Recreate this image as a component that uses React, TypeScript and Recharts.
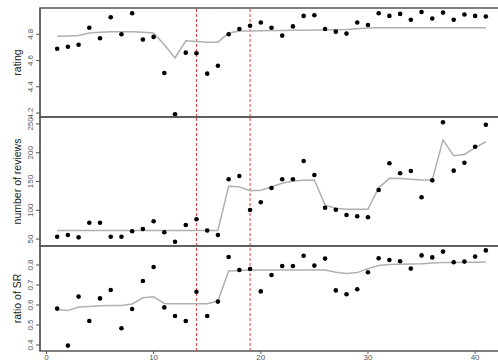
import { ComposedChart, Scatter, Line, XAxis, YAxis, ReferenceLine, ReferenceArea, Label } from 'recharts'

const days = [1, 2, 3, 4, 5, 6, 7, 8, 9, 10, 11, 12, 13, 14, 15, 16, 17, 18, 19, 20, 21, 22, 23, 24, 25, 26, 27, 28, 29, 30, 31, 32, 33, 34, 35, 36, 37, 38, 39, 40, 41]

const ratingPts = [4.69, 4.705, 4.72, 4.85, 4.77, 4.93, 4.8, 4.96, 4.76, 4.78, 4.505, 4.19, 4.66, 4.655, 4.5, 4.56, 4.8, 4.84, 4.865, 4.89, 4.85, 4.79, 4.86, 4.94, 4.945, 4.84, 4.82, 4.805, 4.89, 4.87, 4.96, 4.94, 4.955, 4.91, 4.97, 4.92, 4.965, 4.91, 4.95, 4.94, 4.935]
const ratingFit = [4.785, 4.787, 4.79, 4.81, 4.815, 4.82, 4.82, 4.82, 4.815, 4.81, 4.72, 4.62, 4.75, 4.745, 4.74, 4.74, 4.81, 4.825, 4.825, 4.827, 4.828, 4.829, 4.83, 4.831, 4.832, 4.833, 4.835, 4.837, 4.842, 4.848, 4.85, 4.85, 4.85, 4.85, 4.85, 4.85, 4.85, 4.85, 4.85, 4.85, 4.85]

const reviewPts = [54, 57, 53, 78.5, 78.5, 54, 54, 63.5, 67.5, 81, 62, 45.5, 74.5, 84.4, 65, 57, 154, 159.5, 100.5, 114, 138.7, 153.8, 153.8, 185.6, 161.3, 104.5, 101, 91.8, 89.6, 87.8, 135.2, 181.6, 164.2, 168.2, 122.6, 152, 252.8, 168.8, 182.6, 210.4, 248.6]
const reviewFit = [65, 65, 65, 65, 65, 65, 65, 65, 65, 65, 65, 65, 65, 65, 65, 65, 141.7, 141, 134, 135, 141, 147, 151, 152, 152.6, 109, 103.5, 101.7, 101.7, 101.7, 139, 155.5, 155, 154, 152.6, 152.6, 222, 194.8, 197, 208.7, 219]

const ratioPts = [0.582, 0.397, 0.642, 0.52, 0.633, 0.675, 0.484, 0.58, 0.72, 0.79, 0.588, 0.545, 0.52, 0.666, 0.545, 0.617, 0.84, 0.775, 0.78, 0.668, 0.75, 0.795, 0.795, 0.846, 0.797, 0.832, 0.673, 0.654, 0.679, 0.764, 0.834, 0.825, 0.819, 0.782, 0.848, 0.838, 0.867, 0.814, 0.817, 0.842, 0.873]
const ratioFit = [0.577, 0.572, 0.59, 0.593, 0.596, 0.598, 0.598, 0.605, 0.636, 0.641, 0.608, 0.606, 0.606, 0.606, 0.606, 0.62, 0.77, 0.772, 0.775, 0.775, 0.775, 0.775, 0.775, 0.775, 0.775, 0.775, 0.764, 0.758, 0.762, 0.782, 0.797, 0.803, 0.804, 0.805, 0.806, 0.81, 0.812, 0.813, 0.814, 0.814, 0.815]

const xTicks = [0, 10, 20, 30, 40]
const ratingTicks = [4.2, 4.4, 4.6, 4.8]
const reviewTicks = [50, 100, 150, 200, 250]
const ratioTicks = [0.4, 0.5, 0.6, 0.7, 0.8]
const breaks = [14, 19]

const FONT = '"Liberation Sans", Arial, sans-serif'
const X_DOMAIN: [number, number] = [-0.6, 42.6]

const rows = (pts: number[], fit: number[]) => days.map((d, i) => ({ x: d, pt: pts[i], fit: fit[i] }))

const RotTick = (props: any) => {
  const { x, y, payload, fmt } = props
  return (
    <text x={x} y={y} transform={`rotate(-90 ${x} ${y})`} textAnchor="middle" fontSize={8} fill="#555" fontFamily={FONT}>
      {fmt(payload.value)}
    </text>
  )
}

const Dot = (p: any) => <circle cx={p.cx} cy={p.cy} r={2.3} fill="#000" />

type PanelProps = {
  pts: number[]
  fit: number[]
  domain: [number, number]
  ticks: number[]
  fmt: (v: number) => string
  title: string
  top: number
  plotH: number
  showX?: boolean
}

function Panel({ pts, fit, domain, ticks, fmt, title, top, plotH, showX }: PanelProps) {
  const data = rows(pts, fit)
  const h = plotH + 2 + (showX ? 30 : 2)
  return (
    <div style={{ position: 'absolute', left: 0, top }}>
      <ComposedChart width={510} height={h} data={data} margin={{ top: 2, right: 7, bottom: showX ? 0 : 2, left: 0 }}>
        <XAxis
          dataKey="x"
          type="number"
          domain={X_DOMAIN}
          ticks={xTicks}
          interval={0}
          hide={!showX}
          axisLine={false}
          tickSize={3}
          tickMargin={0}
          tickLine={{ stroke: '#555' }}
          tick={{ fontSize: 8, fill: '#555', fontFamily: FONT }}
          height={30}
        />
        <YAxis
          type="number"
          domain={domain}
          ticks={ticks}
          interval={0}
          width={40}
          allowDataOverflow
          tickSize={4}
          tickMargin={3}
          axisLine={{ stroke: '#555' }}
          tickLine={{ stroke: '#555' }}
          tick={<RotTick fmt={fmt} />}
        >
          <Label
            content={(p: any) => {
              const vb = p.viewBox || { y: 2, height: plotH }
              const cy = vb.y + vb.height / 2
              return (
                <text x={21} y={cy} transform={`rotate(-90 21 ${cy})`} textAnchor="middle" fontSize={10.5} fill="#222" fontFamily={FONT}>
                  {title}
                </text>
              )
            }}
          />
        </YAxis>
        <ReferenceArea x1={X_DOMAIN[0]} x2={X_DOMAIN[1]} y1={domain[0]} y2={domain[1]} fill="none" stroke="#555" strokeWidth={1.5} />
        {breaks.map((b) => (
          <ReferenceLine key={b} x={b} stroke="#e0403a" strokeDasharray="3 2" strokeWidth={1} />
        ))}
        <Line dataKey="fit" type="linear" stroke="#b0b0b0" strokeWidth={1.5} dot={false} isAnimationActive={false} />
        <Scatter dataKey="pt" shape={Dot} isAnimationActive={false} />
      </ComposedChart>
    </div>
  )
}

export default function App() {
  return (
    <div style={{ position: 'absolute', left: 0, top: 0, width: 498, height: 361, overflow: 'hidden', background: '#fff' }}>
      <Panel pts={ratingPts} fit={ratingFit} domain={[4.17, 5.0]} ticks={ratingTicks} fmt={(v) => v.toFixed(1)} title="rating" top={6} plotH={109} />
      <Panel pts={reviewPts} fit={reviewFit} domain={[38, 262]} ticks={reviewTicks} fmt={(v) => String(v)} title="number of reviews" top={115} plotH={129} />
      <Panel pts={ratioPts} fit={ratioFit} domain={[0.37, 0.895]} ticks={ratioTicks} fmt={(v) => v.toFixed(1)} title="ratio of SR" top={244} plotH={105} showX />
    </div>
  )
}
